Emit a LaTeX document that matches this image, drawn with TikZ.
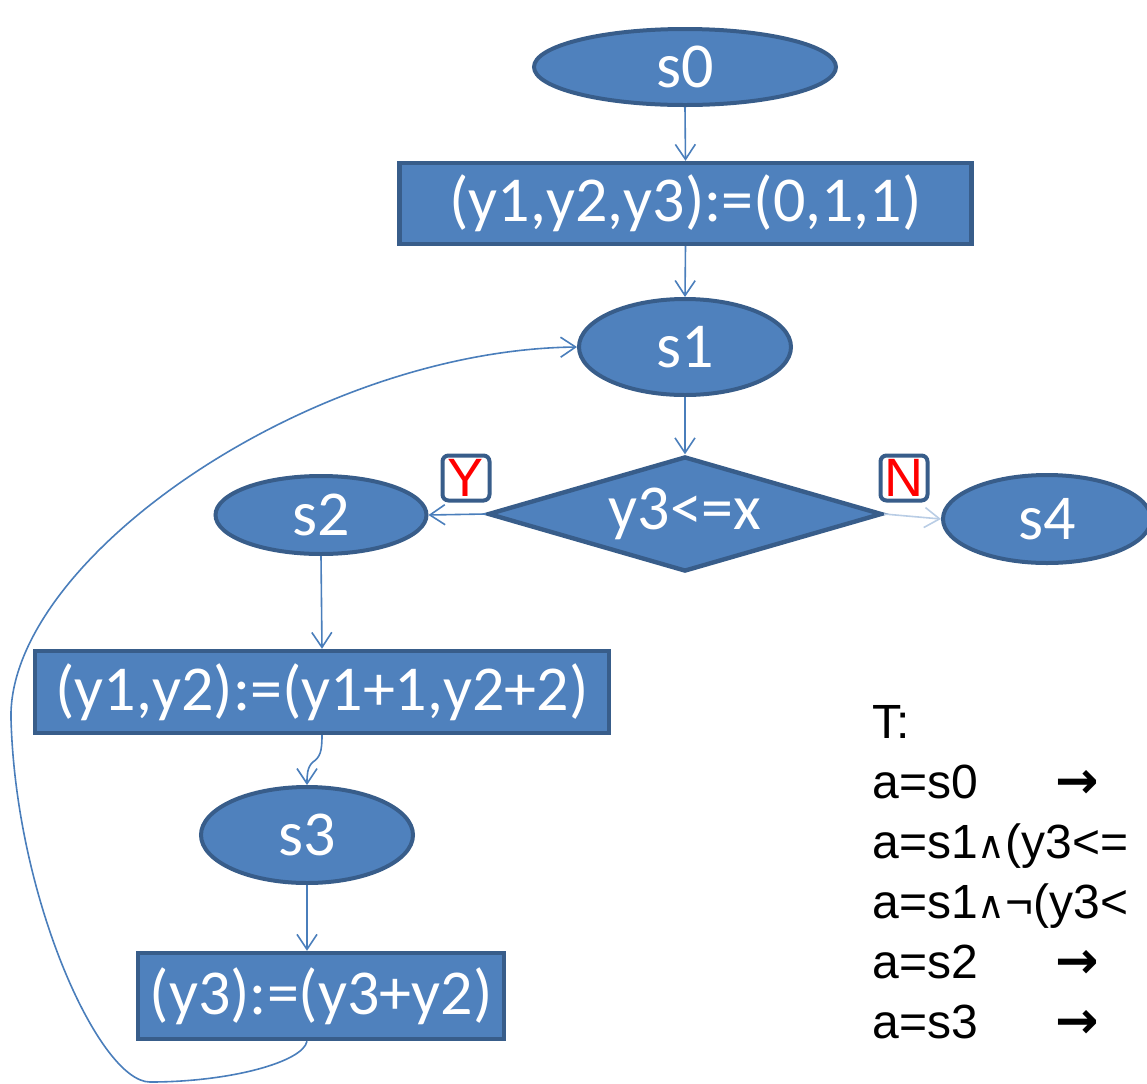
\documentclass[tikz,border=0pt]{standalone}
\usepackage{fontspec}
\setmainfont{Liberation Sans}
\newfontfamily\shapefont{Carlito}
\newfontfamily\symfont{DejaVu Sans}
\newfontfamily\symboldfont{DejaVu Sans Bold}
\usetikzlibrary{shapes.geometric,arrows.meta}
\definecolor{boxfill}{HTML}{4F81BD}
\definecolor{boxline}{HTML}{385D8A}
\definecolor{flow}{HTML}{4A7EBB}
\definecolor{flowpale}{HTML}{B9CDE5}
\newcommand{\wedgesym}{{\symfont\fontsize{19}{19}\selectfont ∧}}
\newcommand{\goesto}{{\symboldfont\fontsize{26}{26}\selectfont →}}

\begin{document}
\begin{tikzpicture}[
    x=0.5pt,y=-0.5pt,
    every node/.style={inner sep=0pt},
    shapetxt/.style={font=\shapefont\fontsize{32}{36}\selectfont, text=white},
    state/.style={ellipse, shapetxt, draw=boxline, fill=boxfill, line width=2pt},
    action/.style={rectangle, shapetxt, draw=boxline, fill=boxfill, line width=2.2pt},
    test/.style={diamond, aspect=3, shapetxt, draw=boxline, fill=boxfill, line width=2.2pt},
    flowline/.style={draw=flow, line width=0.8pt, -{Straight Barb[length=7.5pt,width=10pt]}},
    answer/.style={draw=boxline, fill=white, rounded corners=3pt, line width=2pt, minimum width=23.5pt, minimum height=22.5pt, text=red, font=\fontsize{27}{27}\selectfont},
    rule/.style={anchor=base west, font=\fontsize{24}{28}\selectfont}
]
    \useasboundingbox (0,0) rectangle (1147,1083);
    \clip (0,0) rectangle (1147,1083);

    \node[state, minimum width=151pt, minimum height=38pt] (s0) at (685,67) {s0};
    \node[action, minimum width=286pt, minimum height=40.5pt] (init) at (685.5,203.5) {(y1,y2,y3):=(0,1,1)};
    \node[state, minimum width=106pt, minimum height=48pt] (s1) at (685,347) {s1};
    \node[test, minimum width=197pt, minimum height=57.5pt] (cond) at (685,514) {y3<=x};
    \node[state, minimum width=105.5pt, minimum height=39pt] (s2) at (321,515) {s2};
    \node[state, minimum width=104pt, minimum height=44pt] (s4) at (1047,519) {s4};
    \node[action, minimum width=287pt, minimum height=41pt] (incr) at (322,692) {(y1,y2):=(y1+1,y2+2)};
    \node[state, minimum width=106pt, minimum height=48pt] (s3) at (307,835) {s3};
    \node[action, minimum width=183pt, minimum height=43pt] (acc) at (321,996) {(y3):=(y3+y2)};

    \node[answer] (yes) at (466,478) {Y};
    \node[answer] (no) at (904,478) {N};

    \draw[flowline] (s0.south) -- (init.north);
    \draw[flowline] (init.south) -- (s1.north);
    \draw[flowline] (s1.south) -- (cond.north);
    \draw[flowline] (cond.west) -- (s2.east);
    \draw[flowline, draw=flowpale] (cond.east) -- (s4.west);
    \draw[flowline] (s2.south) -- (incr.north);
    \draw[flowline] (incr.south) .. controls (322,752) and (320,757) .. (313,762)
        .. controls (307,767) and (307,776) .. (s3.north);
    \draw[flowline] (s3.south) -- (s3.south |- acc.north);
    \draw[flowline] (s3.south |- acc.south) .. controls (303,1062) and (230,1082) .. (150,1082)
        .. controls (100,1082) and (16,900) .. (11,719)
        .. controls (7,560) and (310,350) .. (s1.west);

    \node[rule] (head) at (872,738) {T:};
    \node[rule] (r0) at (872,798) {\makebox[91.5pt][l]{a=s0}\goesto};
    \node[rule] (r1) at (872,858) {a=s1\wedgesym(y3<=};
    \node[rule] (r2) at (872,918) {a=s1\wedgesym¬(y3<};
    \node[rule] (r3) at (872,978) {\makebox[91.5pt][l]{a=s2}\goesto};
    \node[rule] (r4) at (872,1038) {\makebox[91.5pt][l]{a=s3}\goesto};
\end{tikzpicture}
\end{document}
